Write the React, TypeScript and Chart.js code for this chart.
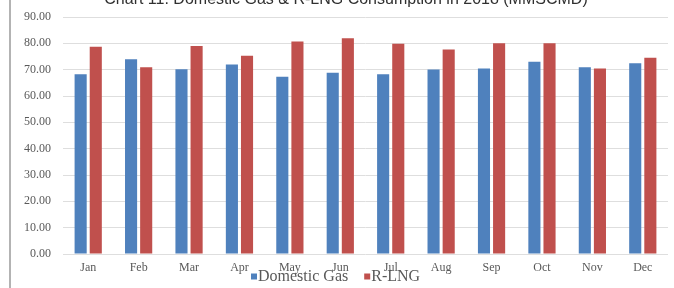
import React, { useEffect, useRef } from "react";
import { Chart, registerables } from "chart.js";

Chart.register(...registerables);

const months = ["Jan", "Feb", "Mar", "Apr", "May", "Jun", "Jul", "Aug", "Sep", "Oct", "Nov", "Dec"];
const domesticGas = [68.3, 74.0, 70.2, 72.0, 67.3, 68.8, 68.3, 70.1, 70.4, 73.0, 70.9, 72.4];
const rlng = [78.7, 70.9, 79.0, 75.3, 80.7, 81.9, 79.8, 77.7, 80.0, 80.0, 70.4, 74.5];
const seriesNames = ["Domestic Gas", "R-LNG"];
const seriesColors = ["#4F81BD", "#C0504D"];
const titleText = "Chart 11: Domestic Gas & R-LNG Consumption in 2018 (MMSCMD)";
const yMax = 90;
const yStep = 10;

const serif = "'Liberation Serif', 'Times New Roman', serif";

// Legend drawn just under the month labels (overlapping them slightly, as in the source image)
const overlapLegend = {
  id: "overlapLegend",
  afterDraw(chart: any) {
    const ctx = chart.ctx;
    const area = chart.chartArea;
    ctx.save();
    ctx.font = `16px ${serif}`;
    ctx.textBaseline = "middle";
    ctx.textAlign = "left";
    const cy = area.bottom + 22.5;
    let x = area.left + 188;
    chart.data.datasets.forEach((ds: any) => {
      ctx.fillStyle = ds.backgroundColor;
      ctx.fillRect(x, cy - 3, 6, 6);
      ctx.fillStyle = "#595959";
      ctx.fillText(ds.label, x + 7, cy);
      x += 7 + ctx.measureText(ds.label).width + 16;
    });
    ctx.restore();
  },
};

export default function App() {
  const ref = useRef<HTMLCanvasElement | null>(null);

  useEffect(() => {
    if (!ref.current) return;
    const chart = new Chart(ref.current, {
      type: "bar",
      data: {
        labels: months,
        datasets: [
          {
            label: seriesNames[0],
            data: domesticGas,
            backgroundColor: seriesColors[0],
            categoryPercentage: 0.6,
            barPercentage: 0.8,
          },
          {
            label: seriesNames[1],
            data: rlng,
            backgroundColor: seriesColors[1],
            categoryPercentage: 0.6,
            barPercentage: 0.8,
          },
        ],
      },
      plugins: [overlapLegend],
      options: {
        animation: false,
        responsive: false,
        maintainAspectRatio: false,
        layout: { padding: { left: 24, right: 6, top: 0, bottom: 12 } },
        plugins: {
          title: {
            display: true,
            text: titleText,
            color: "#303030",
            font: { family: "'Liberation Sans', Arial, sans-serif", size: 16, weight: "normal", lineHeight: 1.2 },
            padding: { top: 0.4, bottom: 7.4 },
          },
          legend: { display: false },
          tooltip: { enabled: false },
        },
        scales: {
          x: {
            grid: { display: false, drawTicks: false },
            border: { display: false },
            ticks: {
              color: "#595959",
              padding: 8,
              font: { family: serif, size: 12, lineHeight: 1 },
            },
          },
          y: {
            min: 0,
            max: yMax,
            grid: { color: "#dedede", drawTicks: false, lineWidth: 1 },
            border: { display: false },
            ticks: {
              stepSize: yStep,
              padding: 12,
              color: "#595959",
              font: { family: serif, size: 12 },
              callback: (v: any) => Number(v).toFixed(2),
            },
            afterFit: (s: any) => {
              s.width = 39;
            },
          },
        },
      } as any,
    });
    return () => chart.destroy();
  }, []);

  return (
    <>
      <div style={{ position: "fixed", left: 0, top: 0, width: 674, height: 288, background: "#fff" }} />
      <div style={{ position: "fixed", left: 0, top: -10, width: 674, height: 304 }}>
        <canvas ref={ref} width={674} height={304} style={{ width: 674, height: 304, display: "block" }} />
      </div>
      <div style={{ position: "fixed", left: 9, top: 0, width: 2, height: 288, background: "#b3b3b3" }} />
    </>
  );
}
